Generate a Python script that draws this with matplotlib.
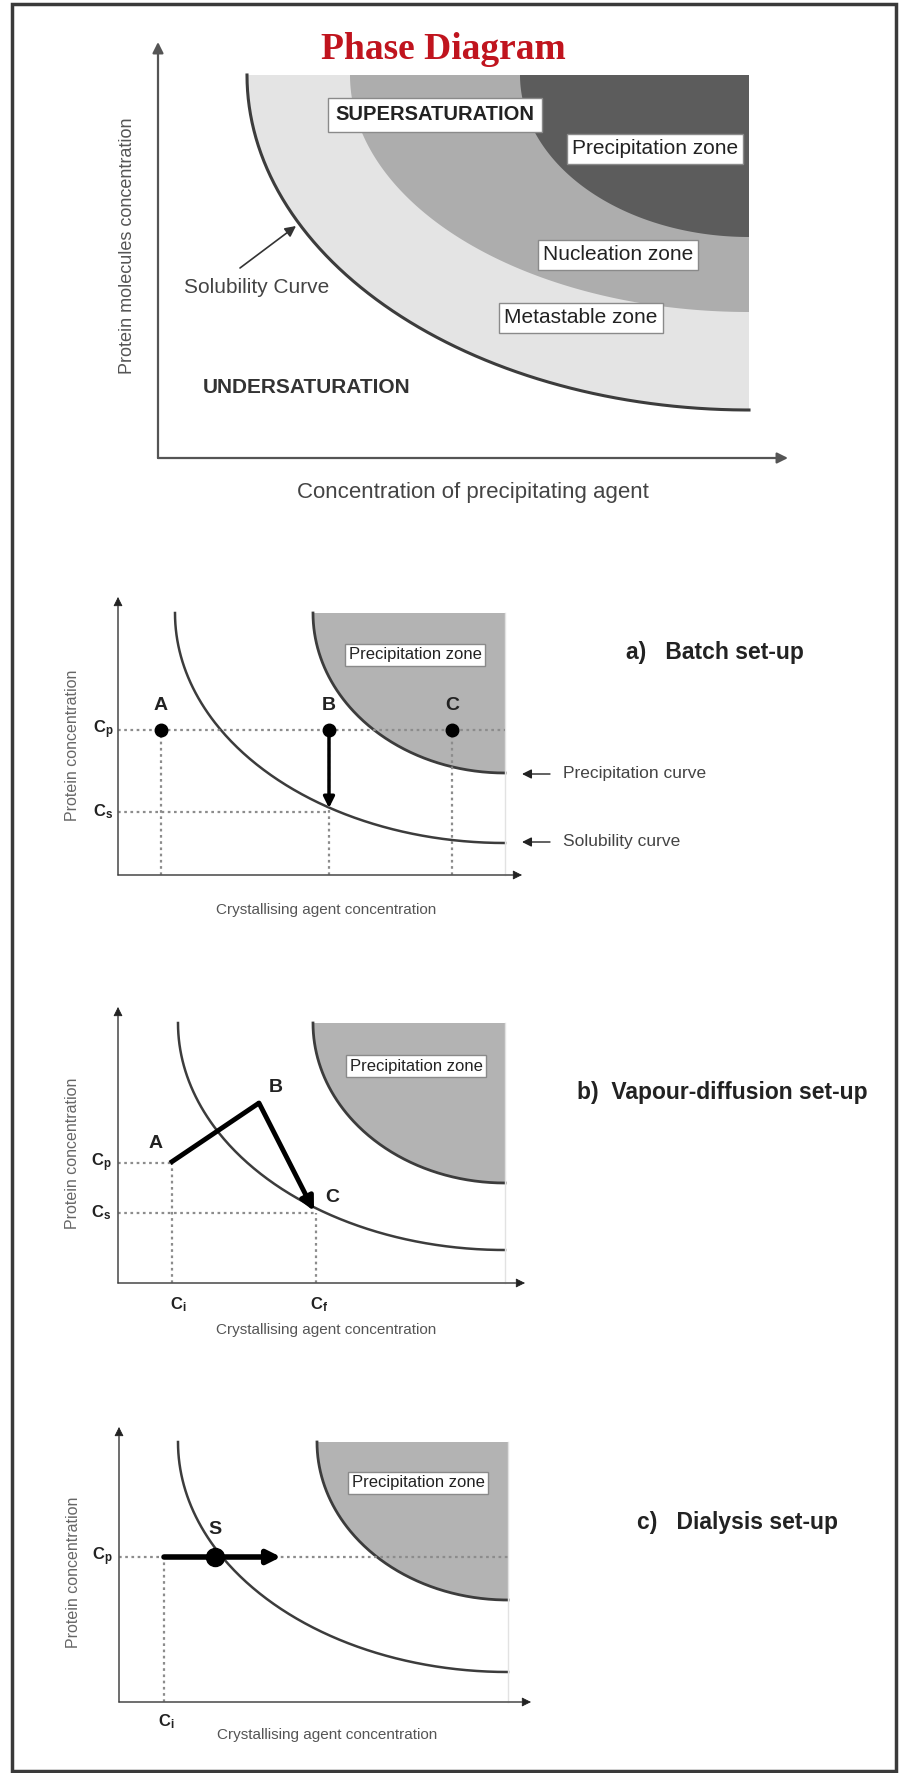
import numpy as np
import matplotlib
matplotlib.use("Agg")
from matplotlib import pyplot as plt
from matplotlib.patches import Polygon, Rectangle

W, H = 901, 1773

plt.rcParams['font.family'] = ['Liberation Sans', 'DejaVu Sans']
plt.rcParams['mathtext.fontset'] = 'custom'
plt.rcParams['mathtext.rm'] = 'Liberation Sans:bold'
plt.rcParams['mathtext.bf'] = 'Liberation Sans:bold'

# ---- data (panel units: pixels from the axis origin, y up) ----
# top phase diagram
top_origin = (158, 458)
top_axis_len = (630, 416)
top_corner = (591, 383)
zone_names = ["Metastable zone", "Nucleation zone", "Precipitation zone"]
zone_a = [502, 399, 229]
zone_b = [335, 237, 162]
zone_colors = ["#e4e4e4", "#adadad", "#5c5c5c"]
zone_label_xy = [(423, 140), (460, 203), (497, 309)]

# set-up panels a, b, c
setup_titles = ["a)   Batch set-up", "b)  Vapour-diffusion set-up", "c)   Dialysis set-up"]
setup_origin = [(118, 875), (118, 1283), (119, 1702)]
setup_axis_len = [(404, 278), (407, 276), (412, 275)]
setup_corner = [(387, 262), (387, 260), (389, 260)]
sol_ab = [(330, 230), (327, 227), (330, 230)]
prec_ab = [(192, 160), (192, 160), (191, 158)]
title_xy = [(508, 223), (459, 190), (518, 180)]
prec_label_xy = [(297, 220), (298, 217), (299, 219)]
xlabel_y = [-35, -47, -33]

# a) batch
batch_cp = 145
batch_cs = 63
batch_x = [43, 211, 334]
batch_names = ["A", "B", "C"]
batch_drop_end = 67
legend_y = [101, 33]
legend_txt = ["Precipitation curve", "Solubility curve"]

# b) vapour diffusion
vd_x = [52, 141, 196]
vd_y = [120, 180, 72]
vd_names = ["A", "B", "C"]
vd_label_xy = [(38, 140), (158, 195), (214, 86)]
vd_cs = 70
vd_ci, vd_cf = 54, 198

# c) dialysis
dia_cp = 145
dia_ci = 45
dia_s = 96
dia_arrow_end = 162

AX_C = "#9a9a9a"
CURVE_C = "#3c3c3c"
DOT_C = "#8c8c8c"

fig = plt.figure(figsize=(W / 100, H / 100), dpi=100)
fig.patch.set_facecolor("white")


def panel_axes(origin):
    ox, oy = origin
    ax = fig.add_axes([0, 0, 1, 1])
    ax.set_xlim(-ox, W - ox)
    ax.set_ylim(-(H - oy), oy)
    ax.axis("off")
    ax.patch.set_alpha(0)
    return ax


def arc(corner, a, b, n=200):
    t = np.linspace(0, np.pi / 2, n)
    return corner[0] - a * np.cos(t), corner[1] - b * np.sin(t)


def zone(ax, corner, a, b, color):
    x, y = arc(corner, a, b)
    pts = np.column_stack([np.r_[x, corner[0]], np.r_[y, corner[1]]])
    ax.add_patch(Polygon(pts, closed=True, facecolor=color, edgecolor="none"))


def arrow(ax, start, end, color, lw, ms=14):
    ax.annotate("", xy=end, xytext=start,
                arrowprops=dict(arrowstyle="-|>", color=color, lw=lw,
                                mutation_scale=ms, shrinkA=0, shrinkB=0))


def boxed(ax, xy, txt, size, weight="normal", pad=0.25):
    ax.text(xy[0], xy[1], txt, fontsize=size, weight=weight, color="#222222",
            ha="center", va="center",
            bbox=dict(boxstyle="square,pad=%s" % pad, fc="white", ec="#8a8a8a", lw=1))


def dotted(ax, xs, ys):
    ax.plot(xs, ys, color=DOT_C, lw=1.6, ls=(0, (1.2, 1.6)))


# ---- top panel ----
ax = panel_axes(top_origin)
for a, b, c in zip(zone_a, zone_b, zone_colors):
    zone(ax, top_corner, a, b, c)
sx, sy = arc(top_corner, zone_a[0], zone_b[0])
ax.plot(sx, sy, color=CURVE_C, lw=2.2)
arrow(ax, (0, 0), (0, top_axis_len[1]), "#555555", 1.6, 16)
arrow(ax, (0, 0), (top_axis_len[0], 0), "#555555", 1.6, 16)
ax.text(285, 408, "Phase Diagram", fontsize=27, weight="bold", color="#c0141e",
        family="Liberation Serif", ha="center", va="center")
boxed(ax, (277, 343), "SUPERSATURATION", 14.5, "bold", 0.35)
for name, xy in zip(zone_names, zone_label_xy):
    boxed(ax, xy, name, 15)
ax.text(99, 170, "Solubility Curve", fontsize=15, color="#444444", ha="center", va="center")
arrow(ax, (82, 190), (138, 232), "#333333", 1.2, 16)
ax.text(149, 70, "UNDERSATURATION", fontsize=15, weight="bold", color="#333333",
        ha="center", va="center")
ax.text(-30, 212, "Protein molecules concentration", fontsize=13, color="#555555",
        rotation=90, ha="center", va="center")
ax.text(315, -35, "Concentration of precipitating agent", fontsize=16, color="#444444",
        ha="center", va="center")

# ---- set-up panels ----
axes = []
for i in range(3):
    ax = panel_axes(setup_origin[i])
    axes.append(ax)
    corner = setup_corner[i]
    pa, pb = prec_ab[i]
    zone(ax, corner, pa, pb, "#b3b3b3")
    px, py = arc(corner, pa, pb)
    ax.plot(px, py, color=CURVE_C, lw=2)
    sa, sb = sol_ab[i]
    sx, sy = arc(corner, sa, sb)
    ax.plot(sx, sy, color=CURVE_C, lw=1.8)
    ax.plot([corner[0], corner[0]], [0, corner[1]], color="#e2e2e2", lw=1)
    arrow(ax, (0, 0), (0, setup_axis_len[i][1]), "#222222", 0.6, 14)
    arrow(ax, (0, 0), (setup_axis_len[i][0], 0), "#222222", 0.6, 14)
    ax.plot([0, 0], [0, setup_axis_len[i][1] - 10], color=AX_C, lw=1.2)
    ax.plot([0, setup_axis_len[i][0] - 10], [0, 0], color=AX_C, lw=1.2)
    boxed(ax, prec_label_xy[i], "Precipitation zone", 12, pad=0.2)
    ax.text(title_xy[i][0], title_xy[i][1], setup_titles[i], fontsize=16.5, weight="bold",
            color="#222222", ha="left", va="center")
    ax.text(-46, 130, "Protein concentration", fontsize=11.5, color="#666666",
            rotation=90, ha="center", va="center")
    ax.text(208, xlabel_y[i], "Crystallising agent concentration",
            fontsize=11, color="#555555", ha="center", va="center")

# a) batch
ax = axes[0]
dotted(ax, [0, setup_corner[0][0]], [batch_cp, batch_cp])
dotted(ax, [0, batch_x[1]], [batch_cs, batch_cs])
for x, n in zip(batch_x, batch_names):
    dotted(ax, [x, x], [0, batch_cp])
    ax.text(x, 170, n, fontsize=14, weight="bold", color="#222222", ha="center", va="center")
ax.plot(batch_x, [batch_cp] * 3, "o", color="black", ms=9)
arrow(ax, (batch_x[1], batch_cp), (batch_x[1], batch_drop_end), "black", 2.5, 16)
ax.text(-15, batch_cp, r"$\mathbf{C_p}$", fontsize=12, color="#222222", ha="center", va="center")
ax.text(-15, batch_cs, r"$\mathbf{C_s}$", fontsize=12, color="#222222", ha="center", va="center")
for y, t in zip(legend_y, legend_txt):
    arrow(ax, (432, y), (404, y), "#222222", 1, 14)
    ax.text(445, y, t, fontsize=12.5, color="#444444", ha="left", va="center")

# b) vapour diffusion
ax = axes[1]
dotted(ax, [0, vd_x[0]], [vd_y[0], vd_y[0]])
dotted(ax, [0, vd_x[2]], [vd_cs, vd_cs])
dotted(ax, [vd_ci, vd_ci], [0, vd_y[0]])
dotted(ax, [vd_cf, vd_cf], [0, vd_cs])
ax.plot(vd_x[:2], vd_y[:2], color="black", lw=3.5, solid_capstyle="butt")
arrow(ax, (vd_x[1], vd_y[1]), (vd_x[2], vd_y[2]), "black", 3.5, 20)
for (lx, ly), n in zip(vd_label_xy, vd_names):
    ax.text(lx, ly, n, fontsize=14, weight="bold", color="#222222", ha="center", va="center")
ax.text(-17, vd_y[0], r"$\mathbf{C_p}$", fontsize=12, color="#222222", ha="center", va="center")
ax.text(-17, vd_cs, r"$\mathbf{C_s}$", fontsize=12, color="#222222", ha="center", va="center")
ax.text(vd_ci + 6, -22, r"$\mathbf{C_i}$", fontsize=12, color="#222222", ha="center", va="center")
ax.text(vd_cf + 3, -22, r"$\mathbf{C_f}$", fontsize=12, color="#222222", ha="center", va="center")

# c) dialysis
ax = axes[2]
dotted(ax, [0, setup_corner[2][0]], [dia_cp, dia_cp])
dotted(ax, [dia_ci, dia_ci], [0, dia_cp])
arrow(ax, (dia_ci, dia_cp), (dia_arrow_end, dia_cp), "black", 4, 20)
ax.plot([dia_s], [dia_cp], "o", color="black", ms=13)
ax.text(dia_s, 172, "S", fontsize=14, weight="bold", color="#222222", ha="center", va="center")
ax.text(-17, dia_cp, r"$\mathbf{C_p}$", fontsize=12, color="#222222", ha="center", va="center")
ax.text(dia_ci + 2, -20, r"$\mathbf{C_i}$", fontsize=12, color="#222222", ha="center", va="center")

# outer frame
fig.patches.append(Rectangle((12 / W, 2 / H), 884 / W, 1767 / H, transform=fig.transFigure,
                             fill=False, ec="#3a3a3a", lw=2.5))

fig.savefig("out.png", dpi=100)
